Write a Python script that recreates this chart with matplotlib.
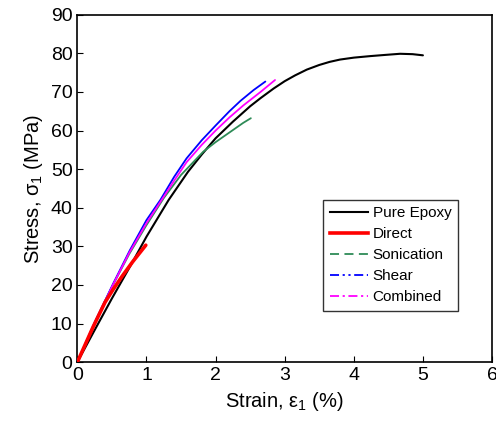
import matplotlib
matplotlib.use("Agg")
import matplotlib.pyplot as plt
from matplotlib.lines import Line2D

plt.rcParams['font.family'] = ['Liberation Sans', 'DejaVu Sans']

# stress-strain readings, strain in %, stress in MPa
epoxy_strain = [0, 0.25, 0.5, 0.76, 1.0, 1.32, 1.6, 1.8, 2.0, 2.25, 2.5, 2.65, 2.84, 3.0, 3.15, 3.32, 3.5, 3.65, 3.8, 4.0, 4.24, 4.45, 4.67, 4.85, 5.0]
epoxy_stress = [0, 8.3, 16.5, 24.7, 32.5, 42.0, 49.3, 53.8, 58.0, 62.3, 66.3, 68.4, 70.9, 72.8, 74.3, 75.8, 77.0, 77.8, 78.4, 78.9, 79.3, 79.6, 79.9, 79.8, 79.5]

direct_strain = [0, 0.23, 0.4, 0.52, 0.65, 0.8, 0.99]
direct_stress = [0, 9.2, 15.5, 18.9, 22.3, 26.0, 30.3]

sonic_strain = [0, 0.25, 0.5, 0.75, 1.0, 1.25, 1.5, 1.82, 2.0, 2.2, 2.4, 2.51]
sonic_stress = [0, 10.0, 19.5, 28.0, 35.5, 42.5, 48.5, 54.5, 57.0, 59.5, 62.0, 63.2]

shear_strain = [0, 0.25, 0.52, 0.76, 1.0, 1.2, 1.4, 1.58, 1.8, 2.0, 2.2, 2.36, 2.55, 2.72]
shear_stress = [0, 10.3, 20.4, 29.0, 36.8, 42.0, 48.0, 52.8, 57.5, 61.3, 65.0, 67.7, 70.5, 72.7]

comb_strain = [0, 0.25, 0.5, 0.75, 1.0, 1.2, 1.4, 1.58, 1.8, 2.0, 2.2, 2.4, 2.65, 2.86]
comb_stress = [0, 10.0, 19.5, 28.3, 36.0, 41.5, 47.0, 51.8, 56.3, 60.0, 63.4, 66.5, 70.0, 73.1]

labels = ["Pure Epoxy", "Direct", "Sonication", "Shear", "Combined"]
colors = ["black", "#ff0000", "#2e8b57", "#0000ff", "#ff00ff"]
widths = [1.5, 2.6, 1.3, 1.3, 1.3]
styles = ["-", "-", (0, (5, 3)), (0, (5, 2, 1.2, 2, 1.2, 2)), (0, (5, 2, 1.2, 2))]

fig = plt.figure(figsize=(4.96, 4.23), dpi=100)
ax = fig.add_axes([0.156, 0.144, 0.836, 0.821])

curves = [(epoxy_strain, epoxy_stress), (direct_strain, direct_stress),
          (sonic_strain, sonic_stress), (shear_strain, shear_stress),
          (comb_strain, comb_stress)]
# the measured curves are dense, so draw them solid; the key carries the dash styles
order = [0, 2, 3, 4, 1]
for i in order:
    x, y = curves[i]
    ax.plot(x, y, color=colors[i], lw=widths[i], solid_capstyle='round',
            solid_joinstyle='round', zorder=3 if i == 1 else 2)

handles = [Line2D([], [], color=c, lw=w, ls=s) for c, w, s in zip(colors, widths, styles)]
leg = ax.legend(handles, labels, loc='upper left', bbox_to_anchor=(0.592, 0.468),
                fontsize=11, handlelength=2.5, frameon=True, fancybox=False,
                borderpad=0.45, labelspacing=0.45, handletextpad=0.3, borderaxespad=0)
leg.get_frame().set_edgecolor('black')
leg.get_frame().set_linewidth(1.0)

ax.set_xlim(0, 6)
ax.set_ylim(0, 90)
ax.set_xticks(range(0, 7))
ax.set_yticks(range(0, 91, 10))
ax.tick_params(direction='in', length=4, width=0.8, labelsize=14, top=False, right=False)
for sp in ax.spines.values():
    sp.set_linewidth(1.2)

ax.set_xlabel(r"Strain, $\mathregular{\varepsilon_1}$ (%)", fontsize=14.5)
ax.set_ylabel(r"Stress, $\mathregular{\sigma_1}$ (MPa)", fontsize=14.5)

fig.savefig("out.png", dpi=100)
